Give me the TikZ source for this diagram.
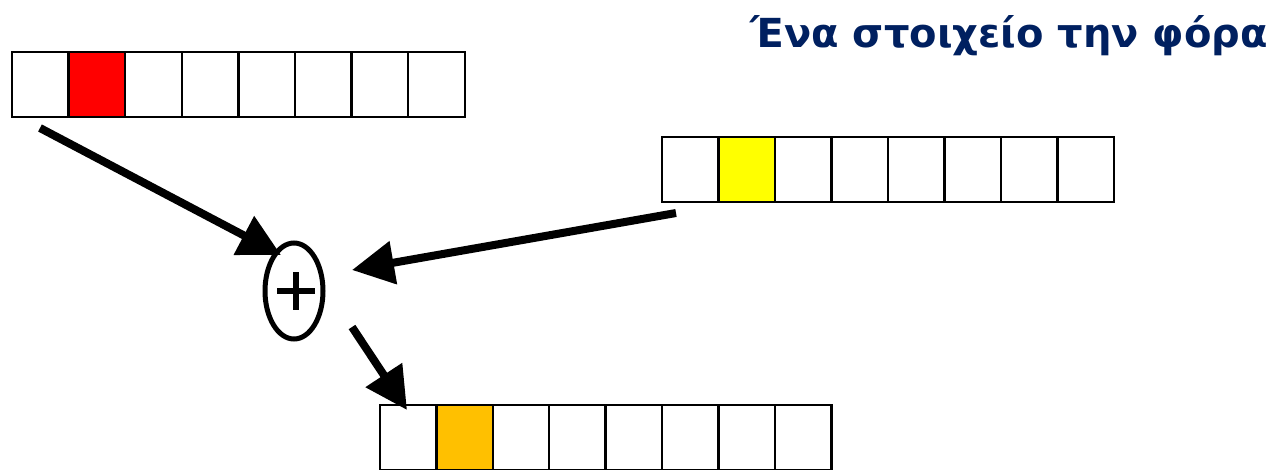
\documentclass[tikz,border=0pt]{standalone}
\usepackage{fontspec}
\setmainfont{DejaVu Sans}
\usetikzlibrary{arrows.meta,shapes.geometric}
\definecolor{titleblue}{HTML}{002060}
\definecolor{cellred}{HTML}{FF0000}
\definecolor{cellyellow}{HTML}{FFFF00}
\definecolor{cellorange}{HTML}{FFC000}
\tikzset{
  cell/.style={draw=black, line width=2.5pt, minimum width=56.6pt, minimum height=65pt, inner sep=0pt, outer sep=0pt, fill=white},
  bigarrow/.style={line width=8pt, -{Triangle[length=42pt,width=42pt]}},
}
\begin{document}
\begin{tikzpicture}[x=1pt,y=-1pt]
\useasboundingbox (0,0) rectangle (1274,469);
% title
\node[anchor=base east, text=titleblue, font=\bfseries\fontsize{40}{48}\selectfont, inner sep=0pt] (title) at (1268,47) {Ένα στοιχείο την φόρα};
% three arrays of eight cells
\foreach \i in {0,...,7} {
  \node[cell] (a\i) at (12+28.3+56.6*\i, 84.5) {};
  \node[cell] (b\i) at (662+28.3+56.5*\i, 169.5) {};
  \node[cell] (c\i) at (380+28.3+56.4*\i, 437.5) {};
}
\node[cell, fill=cellred] at (a1) {};
\node[cell, fill=cellyellow] at (b1) {};
\node[cell, fill=cellorange] at (c1) {};
% the adder
\node[draw, ellipse, line width=5pt, minimum width=58pt, minimum height=96pt, inner sep=0pt] (plus) at (294,291) {};
\draw[line width=6pt] (277,291) -- (315,291) (296,272) -- (296,310);
% connectors
\coordinate (s1) at (40,128);
\coordinate (s2) at (676,213);
\coordinate (s3) at (352,327);
\draw[bigarrow] (s1) -- (281,255);
\draw[bigarrow] (s2) -- (352,270);
\draw[bigarrow] (s3) -- (407,410);
\end{tikzpicture}
\end{document}
